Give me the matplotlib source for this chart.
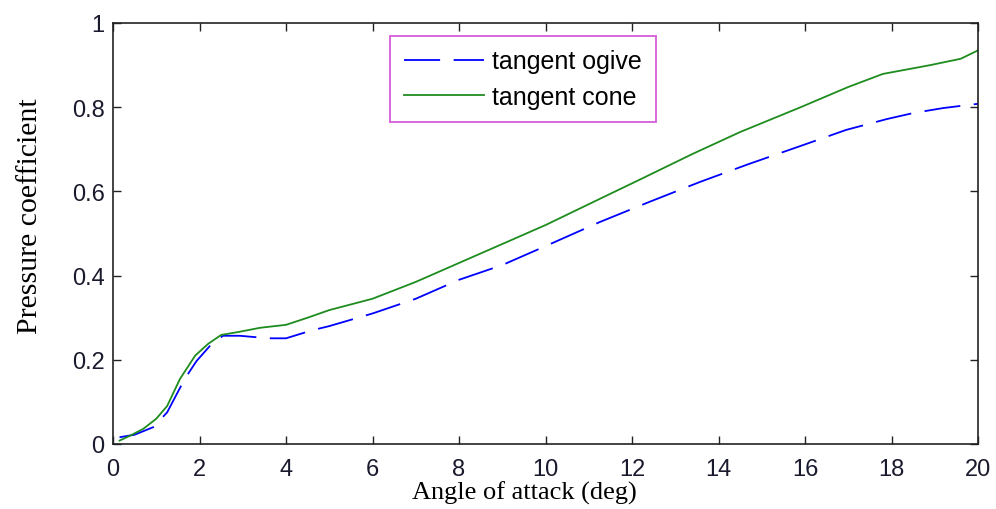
import numpy as np
import matplotlib.pyplot as plt

# angle of attack (deg)
alpha_cone = [0.15, 0.4, 0.7, 1.0, 1.25, 1.55, 1.9, 2.2, 2.5, 2.9, 3.4, 4.0, 4.5, 5.0, 6.0, 7.0,
              8.0, 9.0, 10.0, 11.25, 12.2, 13.4, 14.5, 15.9, 17.0, 17.8, 18.9, 19.6, 20.0]
cp_cone = [0.008, 0.02, 0.036, 0.06, 0.09, 0.155, 0.21, 0.238, 0.259, 0.266, 0.276, 0.283, 0.30,
           0.318, 0.345, 0.385, 0.43, 0.475, 0.52, 0.582, 0.629, 0.689, 0.741, 0.80, 0.848,
           0.879, 0.90, 0.915, 0.935]

alpha_ogive = [0.15, 0.5, 0.93, 1.25, 1.66, 1.93, 2.24, 2.54, 2.93, 3.6, 4.0, 4.6, 5.0, 6.0, 7.0,
               8.0, 9.0, 10.0, 11.25, 12.4, 13.56, 14.7, 15.9, 16.95, 17.9, 18.5, 19.2, 20.0]
cp_ogive = [0.016, 0.022, 0.04, 0.075, 0.155, 0.197, 0.233, 0.257, 0.257, 0.251, 0.251, 0.27,
            0.28, 0.31, 0.345, 0.39, 0.425, 0.47, 0.527, 0.575, 0.622, 0.665, 0.708, 0.746,
            0.772, 0.786, 0.798, 0.808]

fig = plt.figure(figsize=(9.96, 5.10), dpi=100)
ax = fig.add_axes([0.1135, 0.1275, 0.8685, 0.8255])

ax.plot(alpha_ogive, cp_ogive, color='#0000ff', lw=1.3, dashes=(20, 7.5), label='tangent ogive')
ax.plot(alpha_cone, cp_cone, color='#1e8c1e', lw=1.3, label='tangent cone')

ax.set_xlim(0, 20)
ax.set_ylim(0, 1)
ax.set_xticks(np.arange(0, 21, 2))
ax.set_yticks([0, 0.2, 0.4, 0.6, 0.8, 1])
ax.set_yticklabels(['0', '0.2', '0.4', '0.6', '0.8', '1'])
ax.tick_params(direction='in', top=True, right=True, length=6, width=1,
               labelsize=17, labelcolor='#1a1a2e', color='#222222')
ax.tick_params(axis='x', pad=10)
ax.tick_params(axis='y', pad=6)
for lbl in ax.get_xticklabels() + ax.get_yticklabels():
    lbl.set_family('Liberation Sans')
for sp in ax.spines.values():
    sp.set_linewidth(1.2)
    sp.set_color('#222222')

ax.set_xlabel('Angle of attack (deg)', family='Liberation Serif', fontsize=19)
ax.set_ylabel('Pressure coefficient', family='Liberation Serif', fontsize=21.5)
ax.xaxis.set_label_coords(0.475, -0.088)
ax.yaxis.set_label_coords(-0.081, 0.544)

leg = ax.legend(loc='upper left', bbox_to_anchor=(0.32, 0.97), fancybox=False,
                prop={'family': 'Liberation Sans', 'size': 18}, handlelength=3.2,
                handletextpad=0.35, borderpad=0.55, labelspacing=0.45, borderaxespad=0)
leg.get_frame().set_edgecolor('#cc33cc')
leg.get_frame().set_linewidth(1.3)

fig.savefig('out.png', dpi=100)
